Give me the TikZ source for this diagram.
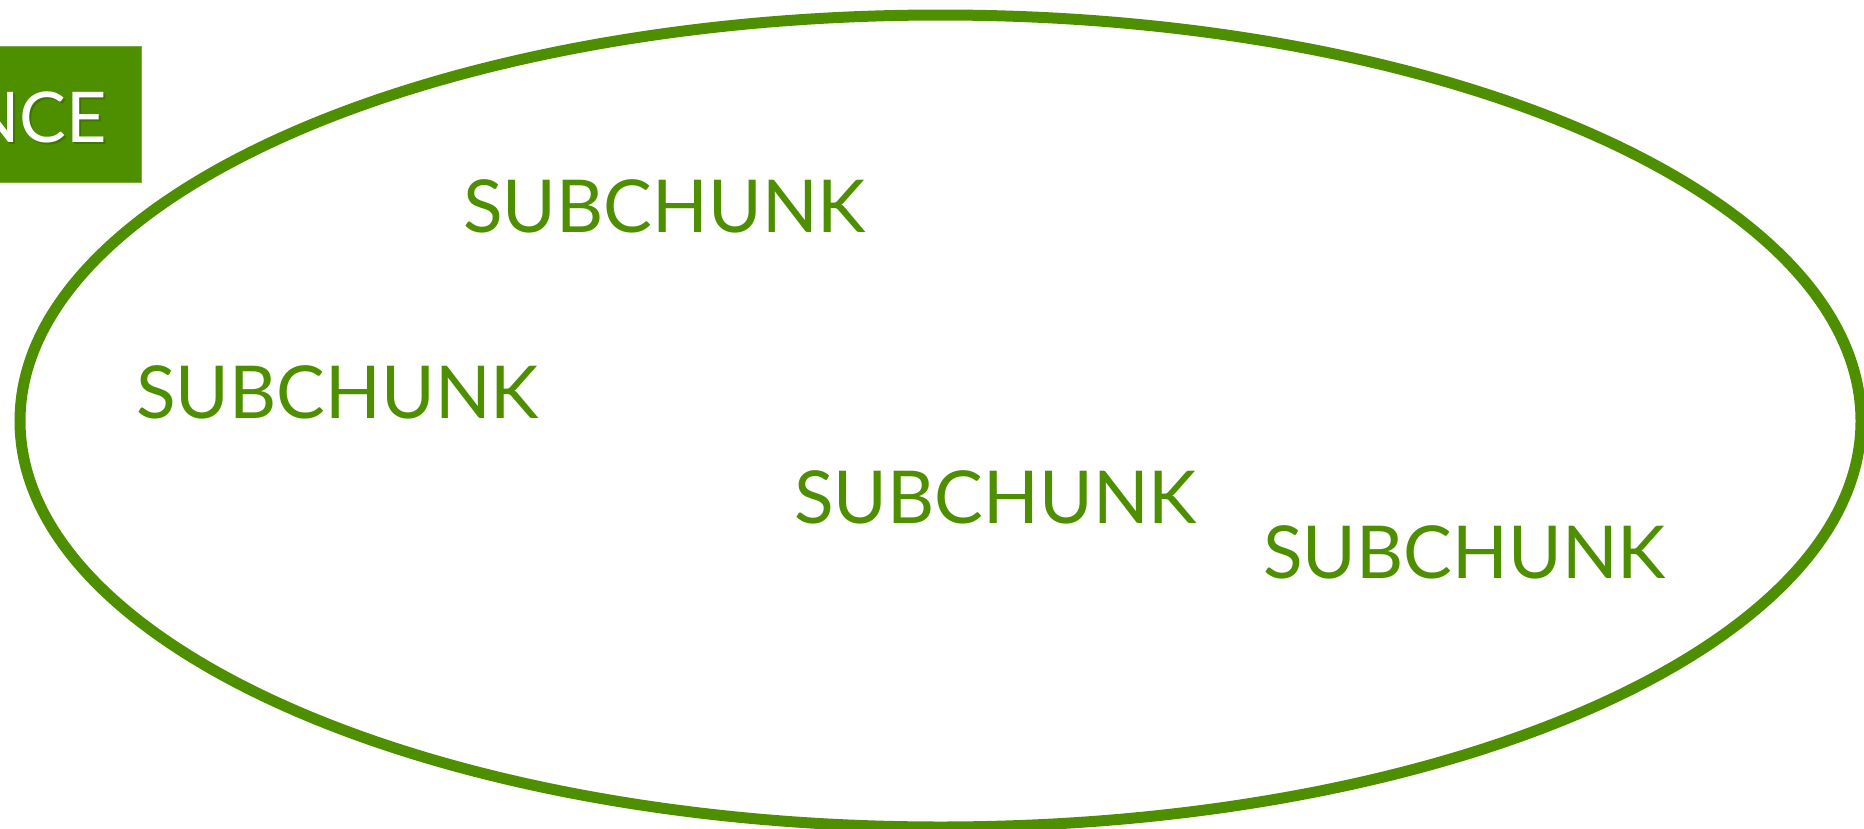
\documentclass[tikz,border=0pt]{standalone}
\usepackage{fontspec}
\newfontfamily\chunkfont{Lato}
\definecolor{leaf}{HTML}{4E8F00}
\definecolor{leafdark}{HTML}{2F5600}
\tikzset{
  subchunk/.style={anchor=base west, inner sep=0pt, text=leaf,
    font=\chunkfont\fontsize{73}{73}\selectfont},
  titlebox/.style={fill=leaf, draw=leaf!75!white, line width=1.2,
    inner sep=0pt, rectangle},
  titletext/.style={anchor=base east, inner sep=0pt, text=white,
    font=\chunkfont\fontsize{70}{70}\selectfont},
}
\begin{document}
\begin{tikzpicture}[x=1pt, y=-1pt]
  \useasboundingbox (0,0) rectangle (1864,828);
  \clip (0,0) rectangle (1864,828);

  % outer boundary of the chunk
  \draw[leaf, line width=11] (940.5,421) ellipse [x radius=920.5, y radius=406];

  % title tab in the upper left corner
  \node[titlebox, minimum width=542pt, minimum height=136pt, anchor=north east]
    (tab) at (142,46) {};
  \node[titletext, text=leafdark, opacity=0.45] (titleshadow) at (109,144) {SEQUENCE};
  \node[titletext] (title) at (107,142) {SEQUENCE};

  % the subchunks inside
  \node[subchunk] (s1) at (463,232) {SUBCHUNK};
  \node[subchunk] (s2) at (136,418) {SUBCHUNK};
  \node[subchunk] (s3) at (794,523) {SUBCHUNK};
  \node[subchunk] (s4) at (1263,578) {SUBCHUNK};
\end{tikzpicture}
\end{document}
